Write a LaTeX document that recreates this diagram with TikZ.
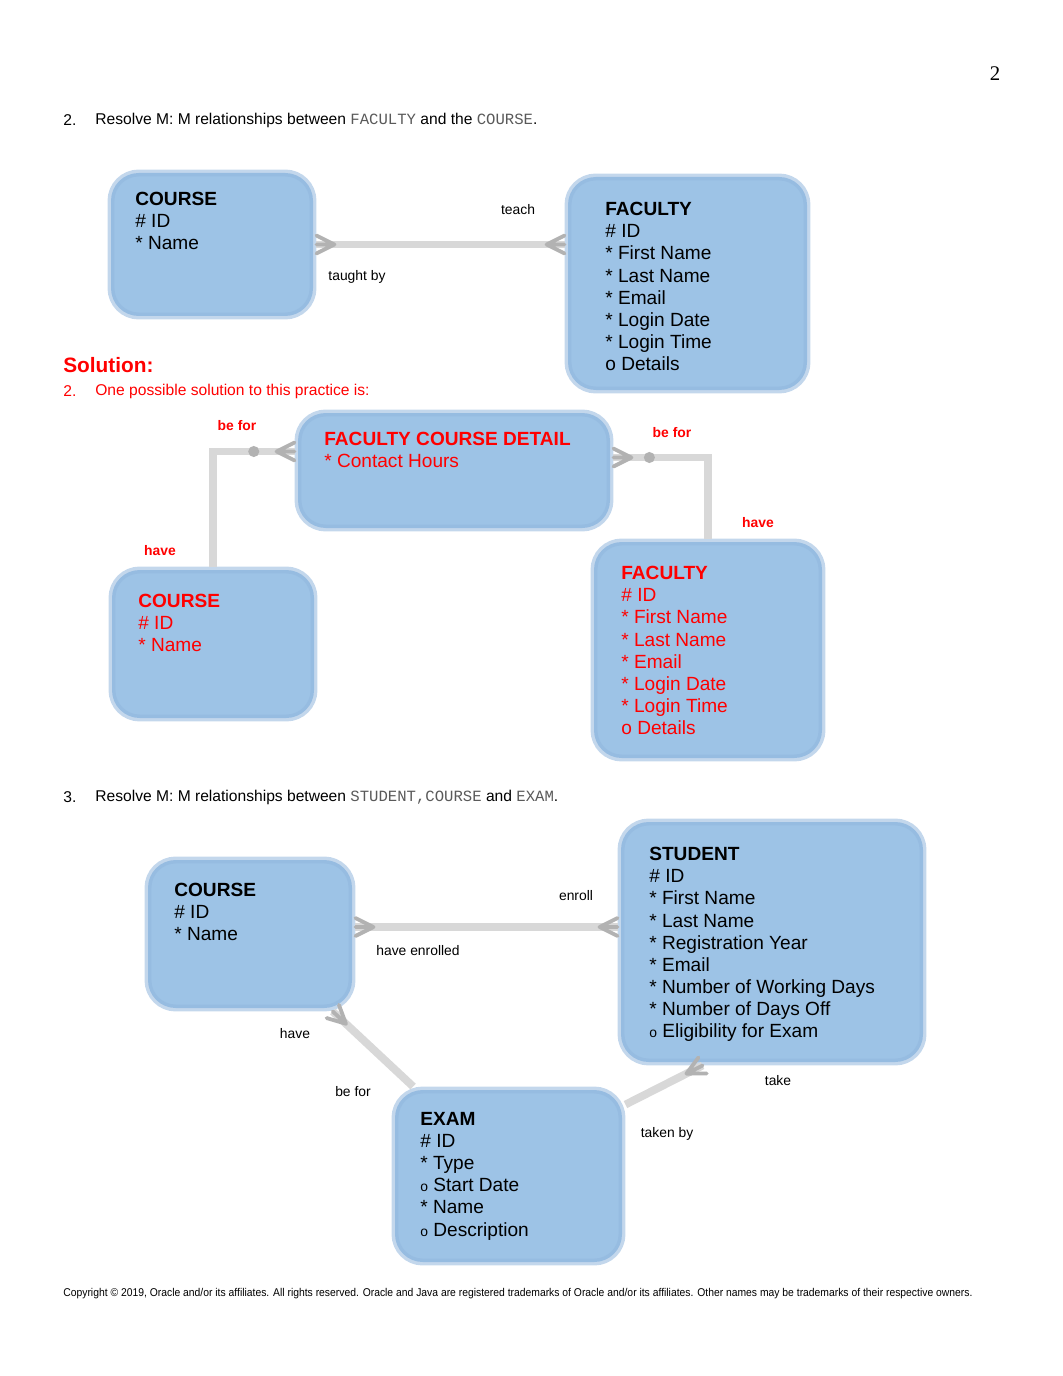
\documentclass[tikz,border=0pt]{standalone}
\usepackage{fontspec}
\setmainfont{Liberation Sans}
\setmonofont{Liberation Mono}
\newfontfamily\pagefont{Liberation Serif}
\usepackage{graphicx}
\usetikzlibrary{fit,calc}
\definecolor{boxblue}{RGB}{157,195,230}
\definecolor{boxedge}{RGB}{146,183,222}
\definecolor{linegray}{RGB}{216,216,216}
\definecolor{footgray}{RGB}{178,178,178}
\definecolor{monogray}{RGB}{90,90,90}
\definecolor{solred}{RGB}{255,0,0}
\tikzset{
  pics/crow/.style={code={\draw[foot] (-18,0) -- (0,-9) (-18,0) -- (0,0) (-18,0) -- (0,9);}},
  pics/crowrev/.style={code={\draw[foot] (18,0) -- (0,-9) (18,0) -- (0,0) (18,0) -- (0,9);}},
  pics/knot/.style={code={\fill[footgray] (0,0) circle (3.2pt);}}
}
\begin{document}
\begin{tikzpicture}[x=0.5764pt,y=-0.5764pt,
  entity/.style={draw=boxedge,draw opacity=0.55,line width=4pt,fill=boxblue,rounded corners=16pt,inner sep=0pt},
  attr/.style={anchor=north west,inner sep=0pt,align=left,font=\fontsize{11}{12.75}\selectfont},
  conn/.style={draw=linegray,line width=4.5pt},
  foot/.style={draw=footgray,line width=2.2pt,line cap=round},
  lbl/.style={inner sep=0pt,font=\fontsize{8}{9.6}\selectfont},
  redlbl/.style={inner sep=0pt,text=solred,font=\fontsize{8}{9.6}\selectfont\bfseries},
  hdr/.style={anchor=west,inner sep=0pt,font=\fontsize{9}{11}\selectfont}]
\fill[white] (0,0) rectangle (1062,1376);
\useasboundingbox (0,0) rectangle (1062,1376);

\node[inner sep=0pt,font=\pagefont\fontsize{12}{14}\selectfont] (pageno) at (995,74) {2};

% question 2
\node[hdr] (qTwoNum) at (63,120) {2.};
\node[hdr] (qTwo) at (95,120) {Resolve M: M relationships between \textcolor{monogray}{\texttt{FACULTY}} and the \textcolor{monogray}{\texttt{COURSE}}.};

\node[entity,fit={(111,173) (313,316)}] (courseA) {};
\node[entity,fit={(568,177) (807,390)}] (facultyA) {};
\node[attr] (courseAtxt) at (135,192) {\textbf{COURSE}\\\# ID\\* Name};
\node[attr] (facultyAtxt) at (605,202) {\textbf{FACULTY}\\\# ID\\* First Name\\* Last Name\\* Email\\* Login Date\\* Login Time\\o Details};

\draw[conn] (courseA.east) -- (courseA.east -| facultyA.west)
  pic[pos=0,sloped,allow upside down]{crowrev}
  pic[pos=1,sloped,allow upside down]{crow};
\node[lbl] (teachA) at (518,210) {teach};
\node[lbl] (taughtA) at (357,277) {taught by};

% solution
\node[anchor=west,inner sep=0pt,text=solred,font=\fontsize{12}{14}\selectfont\bfseries] (solHead) at (63,365) {Solution:};
\node[hdr,text=solred] (solNum) at (63,391) {2.};
\node[hdr,text=solred] (solText) at (95,391) {One possible solution to this practice is:};

\node[entity,fit={(298,413) (610,528)}] (fcd) {};
\node[entity,fit={(112,570) (314,718)}] (courseB) {};
\node[entity,fit={(594,542) (822,758)}] (facultyB) {};
\node[attr,text=solred] (fcdtxt) at (324,432) {\textbf{FACULTY COURSE DETAIL}\\* Contact Hours};
\node[attr,text=solred] (courseBtxt) at (138,594) {\textbf{COURSE}\\\# ID\\* Name};
\node[attr,text=solred] (facultyBtxt) at (621,566) {\textbf{FACULTY}\\\# ID\\* First Name\\* Last Name\\* Email\\* Login Date\\* Login Time\\o Details};

\draw[conn] ([shift={(0,-19)}]fcd.west) -| (courseB.north)
  pic[pos=0,sloped,allow upside down]{crowrev}
  pic[pos=0.25]{knot};
\draw[conn] ([shift={(0,-13)}]fcd.east) -| (facultyB.north)
  pic[pos=0,sloped,allow upside down]{crowrev}
  pic[pos=0.19]{knot};
\node[redlbl] (beforL) at (237,426) {be for};
\node[redlbl] (haveL) at (160,551) {have};
\node[redlbl] (beforR) at (672,433) {be for};
\node[redlbl] (haveR) at (758,523) {have};

% question 3
\node[hdr] (qThreeNum) at (63,797) {3.};
\node[hdr] (qThree) at (95,797) {Resolve M: M relationships between \textcolor{monogray}{\texttt{STUDENT,COURSE}} and \textcolor{monogray}{\texttt{EXAM}}.};

\node[entity,fit={(148,860) (352,1008)}] (courseC) {};
\node[entity,fit={(621,822) (923,1062)}] (student) {};
\node[entity,fit={(395,1090) (622,1262)}] (exam) {};
\node[attr] (courseCtxt) at (174,883) {\textbf{COURSE}\\\# ID\\* Name};
\node[attr] (studenttxt) at (649,847) {\textbf{STUDENT}\\\# ID\\* First Name\\* Last Name\\* Registration Year\\* Email\\* Number of Working Days\\* Number of Days Off\\{\fontsize{8}{8}\selectfont o} Eligibility for Exam};
\node[attr] (examtxt) at (420,1112) {\textbf{EXAM}\\\# ID\\* Type\\{\fontsize{8}{8}\selectfont o} Start Date\\* Name\\{\fontsize{8}{8}\selectfont o} Description};

\draw[conn] ([shift={(0,-7)}]courseC.east) -- ([shift={(0,-7)}]courseC.east -| student.west)
  pic[pos=0,sloped,allow upside down]{crowrev}
  pic[pos=1,sloped,allow upside down]{crow};
\draw[conn] (courseC) -- (exam)
  pic[pos=0,sloped,allow upside down]{crowrev};
\draw[conn] ([shift={(85,0)}]student.south west) -- ([shift={(0,18)}]exam.north east)
  pic[pos=0,sloped,allow upside down]{crowrev};
\node[lbl] (enrollC) at (576,896) {enroll};
\node[lbl] (enrolledC) at (418,951) {have enrolled};
\node[lbl] (haveC) at (295,1034) {have};
\node[lbl] (beforC) at (353,1092) {be for};
\node[lbl] (takeC) at (778,1081) {take};
\node[lbl] (takenC) at (667,1134) {taken by};

\node[anchor=west,inner sep=0pt] (copy) at (63,1294) {\resizebox{524pt}{\height}{\fontsize{6.5}{8}\selectfont Copyright © 2019, Oracle and/or its affiliates. All rights reserved. Oracle and Java are registered trademarks of Oracle and/or its affiliates. Other names may be trademarks of their respective owners.}};
\end{tikzpicture}
\end{document}
